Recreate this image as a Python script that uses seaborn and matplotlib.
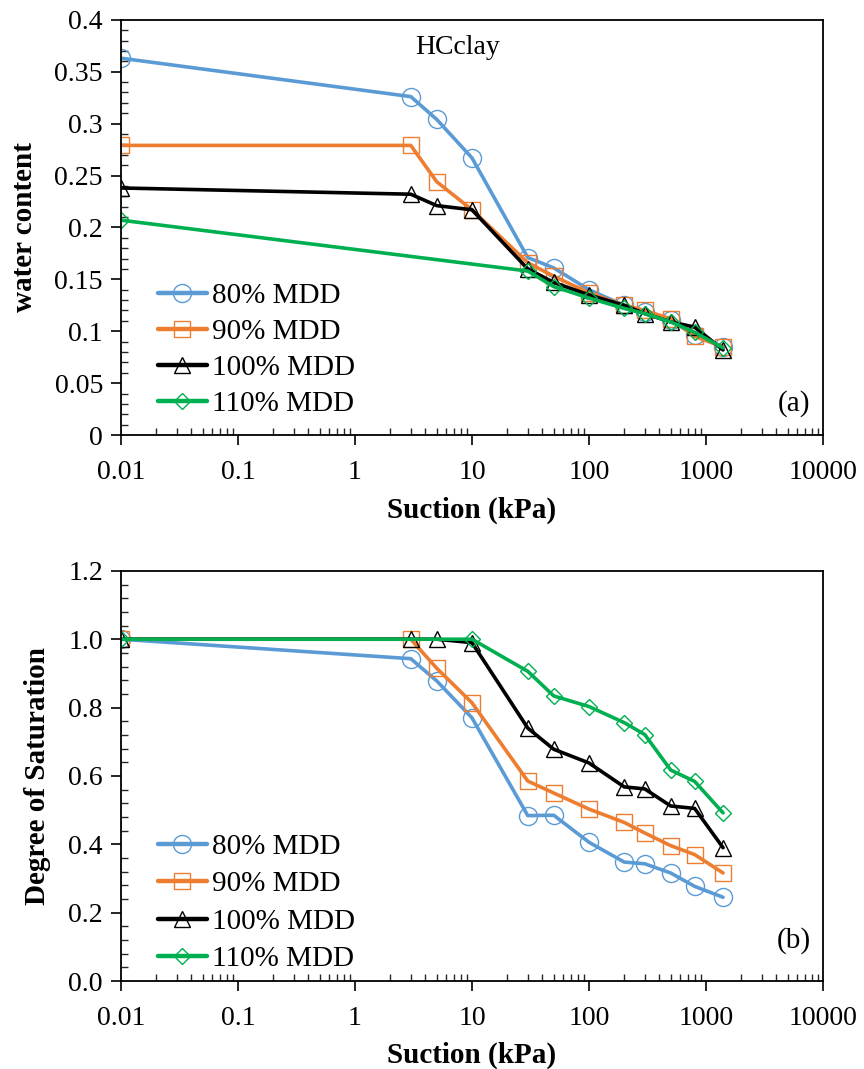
import numpy as np
import pandas as pd
import matplotlib
matplotlib.use("Agg")
import matplotlib.pyplot as plt
import seaborn as sns
from matplotlib.ticker import LogLocator, MultipleLocator, FixedLocator, FuncFormatter

# ---------------- DATA ----------------
suction = [0.01, 3, 5, 10, 30, 50, 100, 200, 300, 500, 800, 1400]
suction_110_wc = [0.01, 30, 50, 100, 200, 300, 500, 800, 1400]
suction_110_sr = [0.01, 10, 30, 50, 100, 200, 300, 500, 800, 1400]

wc_80 = [0.363, 0.326, 0.304, 0.267, 0.171, 0.161, 0.140, 0.125, 0.119, 0.111, 0.096, 0.085]
wc_90 = [0.279, 0.279, 0.244, 0.217, 0.166, 0.153, 0.137, 0.125, 0.120, 0.112, 0.095, 0.085]
wc_100 = [0.238, 0.232, 0.221, 0.217, 0.160, 0.147, 0.135, 0.125, 0.117, 0.109, 0.104, 0.082]
wc_110 = [0.207, 0.158, 0.143, 0.132, 0.122, 0.117, 0.109, 0.099, 0.084]

sr_80 = [1.0, 0.943, 0.878, 0.770, 0.484, 0.485, 0.406, 0.348, 0.343, 0.316, 0.277, 0.245]
sr_90 = [1.0, 1.0, 0.915, 0.814, 0.585, 0.550, 0.503, 0.464, 0.433, 0.396, 0.370, 0.316]
sr_100 = [1.0, 1.0, 1.0, 0.990, 0.740, 0.678, 0.638, 0.568, 0.562, 0.512, 0.505, 0.390]
sr_110 = [1.0, 1.0, 0.906, 0.834, 0.803, 0.756, 0.721, 0.617, 0.584, 0.492]

labels = ["80% MDD", "90% MDD", "100% MDD", "110% MDD"]
colors = ["#5B9BD5", "#ED7D31", "#000000", "#00B050"]
markers = ["o", "s", "^", "D"]
msizes = [13, 11, 11, 8]

x_ticks = [0.01, 0.1, 1, 10, 100, 1000, 10000]

sns.set_theme(style="white")
plt.rcParams["font.family"] = ["Liberation Serif", "DejaVu Serif"]
plt.rcParams["font.serif"] = ["Liberation Serif", "DejaVu Serif"]
plt.rcParams["text.color"] = "black"
plt.rcParams["axes.labelcolor"] = "black"
SERIF = ["Liberation Serif", "DejaVu Serif"]


def fmt_x(v, pos):
    if v >= 1:
        return "%d" % round(v)
    return ("%g" % v)


def draw_panel(ax, xs_list, ys_list, ylim, ymajor, yminor, yfmt, ylabel, tag, tag_y,
               leg_y, leg_space):

    for xs, ys, lab, c, m, ms in zip(xs_list, ys_list, labels, colors, markers, msizes):
        sns.lineplot(x=xs, y=ys, ax=ax, color=c, linewidth=2.6, marker=m,
                     markersize=ms, markerfacecolor="none", markeredgecolor=c,
                     markeredgewidth=1.0, label=lab, sort=False, estimator=None)

    ax.set_xscale("log")
    ax.set_xlim(0.01, 10000)
    ax.set_ylim(*ylim)

    ax.xaxis.set_major_locator(FixedLocator(x_ticks))
    ax.xaxis.set_minor_locator(LogLocator(base=10, subs=np.arange(2, 10), numticks=20))
    ax.xaxis.set_major_formatter(FuncFormatter(fmt_x))
    ax.xaxis.set_minor_formatter(FuncFormatter(lambda v, p: ""))

    ax.yaxis.set_major_locator(MultipleLocator(ymajor))
    ax.yaxis.set_minor_locator(MultipleLocator(yminor))
    ax.yaxis.set_major_formatter(FuncFormatter(yfmt))

    ax.tick_params(axis="both", which="major", direction="out", length=7, width=1.2,
                   labelsize=20, colors="black", bottom=True, left=True)
    ax.tick_params(axis="x", which="major", pad=11)
    ax.tick_params(axis="y", which="major", pad=6)
    ax.tick_params(axis="both", which="minor", direction="in", length=5, width=1.0,
                   bottom=True, left=True)
    for t in ax.get_xticklabels() + ax.get_yticklabels():
        t.set_family(SERIF)

    for s in ax.spines.values():
        s.set_color("black")
        s.set_linewidth(1.3)

    ax.set_xlabel("Suction (kPa)", fontsize=21, fontweight="bold", labelpad=8,
                  family=SERIF)
    ax.set_ylabel(ylabel, fontsize=21, fontweight="bold", labelpad=12, family=SERIF)

    ax.text(0.959, tag_y, tag, transform=ax.transAxes,
            fontsize=21, ha="center", va="center", family=SERIF)

    leg = ax.legend(loc="lower left", bbox_to_anchor=(0.044, leg_y), frameon=False,
                    prop={"family": SERIF, "size": 21}, handlelength=1.7,
                    handletextpad=0.15, labelspacing=leg_space, borderaxespad=0.1,
                    borderpad=0.1)
    for line in leg.get_lines():
        line.set_linewidth(3.2)


fig = plt.figure(figsize=(8.64, 10.69), dpi=100)
ax1 = fig.add_axes([0.140, 0.593, 0.8125, 0.3885])
ax2 = fig.add_axes([0.140, 0.0823, 0.8125, 0.3837])

draw_panel(ax1, [suction, suction, suction, suction_110_wc],
           [wc_80, wc_90, wc_100, wc_110],
           (0, 0.4), 0.05, 0.01, lambda v, p: "%g" % round(v, 3),
           "water content", "(a)", 0.077, 0.029, 0.33)
ax1.text(0.48, 0.933, "HCclay", transform=ax1.transAxes, fontsize=20,
         ha="center", va="center", family=SERIF)

draw_panel(ax2, [suction, suction, suction, suction_110_sr],
           [sr_80, sr_90, sr_100, sr_110],
           (0, 1.2), 0.2, 0.04, lambda v, p: "%.1f" % v,
           "Degree of Saturation", "(b)", 0.098, 0.007, 0.38)

fig.savefig("out.png", dpi=100)
plt.close()
